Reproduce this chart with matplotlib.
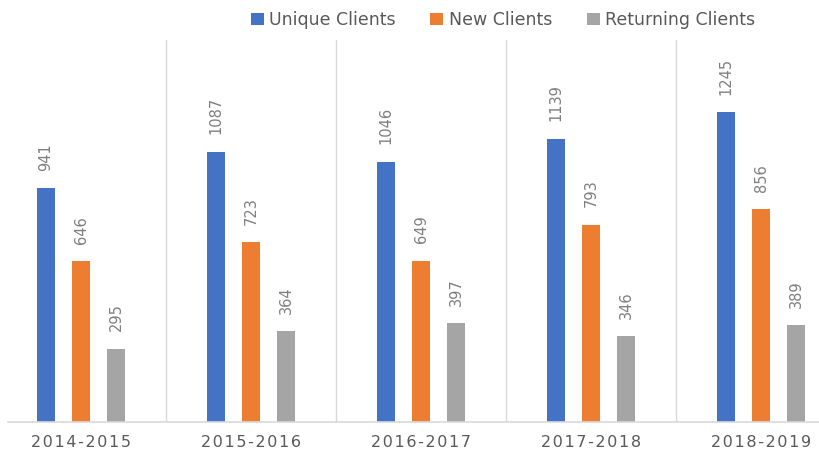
import matplotlib.pyplot as plt
import numpy as np

years = ['2014-2015', '2015-2016', '2016-2017', '2017-2018', '2018-2019']
unique = [941, 1087, 1046, 1139, 1245]
new = [646, 723, 649, 793, 856]
returning = [295, 364, 397, 346, 389]

series = [('Unique Clients', unique, '#4472C4'),
          ('New Clients', new, '#ED7D31'),
          ('Returning Clients', returning, '#A5A5A5')]

fig = plt.figure(figsize=(8.19, 4.61), dpi=100)
ax = fig.add_axes([8/819, 39/461, 811/819, 382/461])

x = np.arange(len(years))
w = 0.106
off = 0.206
for i, (name, vals, col) in enumerate(series):
    pos = x + (i - 1) * off
    ax.bar(pos, vals, w, color=col, label=name, zorder=2)
    for p, v in zip(pos, vals):
        ax.text(p, v + 70, str(v), rotation=90, ha='center', va='bottom',
                fontsize=10.5, color='#7F7F7F')

# group separators
for b in x[:-1] + 0.5:
    ax.axvline(b, color='#D9D9D9', lw=1, zorder=1)

ax.set_xlim(-0.43, 4.34)
ax.set_ylim(0, 1536)
ax.set_yticks([])
ax.set_xticks(x)
ax.set_xticklabels(['\u200a'.join(y) for y in years], fontsize=11.5, color='#595959')
ax.tick_params(axis='x', length=0, pad=9)
for s in ['top', 'right', 'left']:
    ax.spines[s].set_visible(False)
ax.spines['bottom'].set_color('#D9D9D9')
ax.spines['bottom'].set_linewidth(1.2)

leg = fig.legend(loc='upper center', bbox_to_anchor=(0.614, 1.01), ncol=3, frameon=False,
                 fontsize=12.5, handlelength=0.75, handleheight=0.75, handletextpad=0.3,
                 columnspacing=2.0)
for t in leg.get_texts():
    t.set_color('#595959')

plt.savefig('out.png', dpi=100)
